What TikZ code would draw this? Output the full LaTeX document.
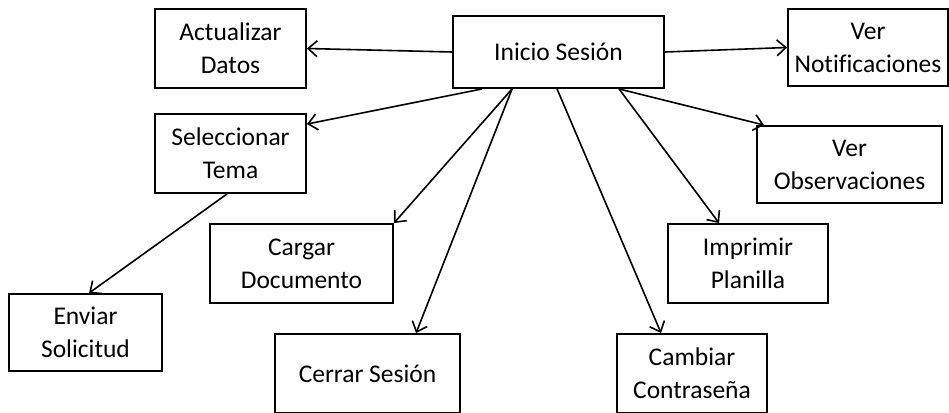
\documentclass[tikz,border=0pt]{standalone}
\usepackage{fontspec}
\setmainfont{Carlito}[Ligatures=NoCommon]
\usetikzlibrary{positioning,calc,arrows.meta}
\tikzstyle{caja} = [draw=black, line width=1.9pt, inner sep=0pt, align=center, font=\fontsize{25.5}{33}\selectfont]
\tikzstyle{flecha} = [line width=1.6pt, -{Straight Barb[length=9pt,width=16pt]}]
\begin{document}
\begin{tikzpicture}[x=1pt,y=-1pt]
      \useasboundingbox (0,0) rectangle (949,412);
      %%%%%%%%%%%%%%%%%%%%%%%%%%%%%%%%%%%%%%%
      \draw (558.5,52) node (ini) [caja, minimum width=211pt, minimum height=72pt] {Inicio Sesión};
      \draw (230.5,48.5) node (act) [caja, minimum width=151pt, minimum height=79pt] {Actualizar\\Datos};
      \draw (230.5,153.5) node (sel) [caja, minimum width=151pt, minimum height=79pt] {Seleccionar\\Tema};
      \draw (868,47.5) node (notif) [caja, minimum width=160pt, minimum height=77pt] {Ver\\Notificaciones};
      \draw (849.5,164.5) node (obs) [caja, minimum width=185pt, minimum height=77pt] {Ver\\Observaciones};
      \draw (85.5,332.5) node (env) [caja, minimum width=153pt, minimum height=77pt] {Enviar\\Solicitud};
      \draw (301.5,263.5) node (car) [caja, minimum width=183pt, minimum height=79pt] {Cargar\\Documento};
      \draw (748,263.5) node (imp) [caja, minimum width=160pt, minimum height=79pt] {Imprimir\\Planilla};
      \draw (367.5,373.5) node (cer) [caja, minimum width=185pt, minimum height=79pt] {Cerrar Sesión};
      \draw (692,373.5) node (cam) [caja, minimum width=150pt, minimum height=79pt] {Cambiar\\Contraseña};
      %\draw (ini)--(act);
      \draw[flecha] (ini.west) -- (act.east);
      \draw[flecha] (ini.east) -- (notif.west);
      \draw[flecha] ([xshift=30pt]ini.south west) -- ([yshift=-11pt]sel.north east);
      \draw[flecha] ([xshift=60pt]ini.south west) -- (car.north east);
      \draw[flecha] ([xshift=60pt]ini.south west) -- ([xshift=142pt]cer.north west);
      \draw[flecha] ([xshift=105pt]ini.south west) -- ([xshift=45pt]cam.north west);
      \draw[flecha] ([xshift=167pt]ini.south west) -- ([xshift=52pt]imp.north west);
      \draw[flecha] ([xshift=167pt]ini.south west) -- ([xshift=8pt]obs.north west);
      \draw[flecha] ([xshift=73pt]sel.south west) -- ([xshift=81pt]env.north west);
\end{tikzpicture}
\end{document}
